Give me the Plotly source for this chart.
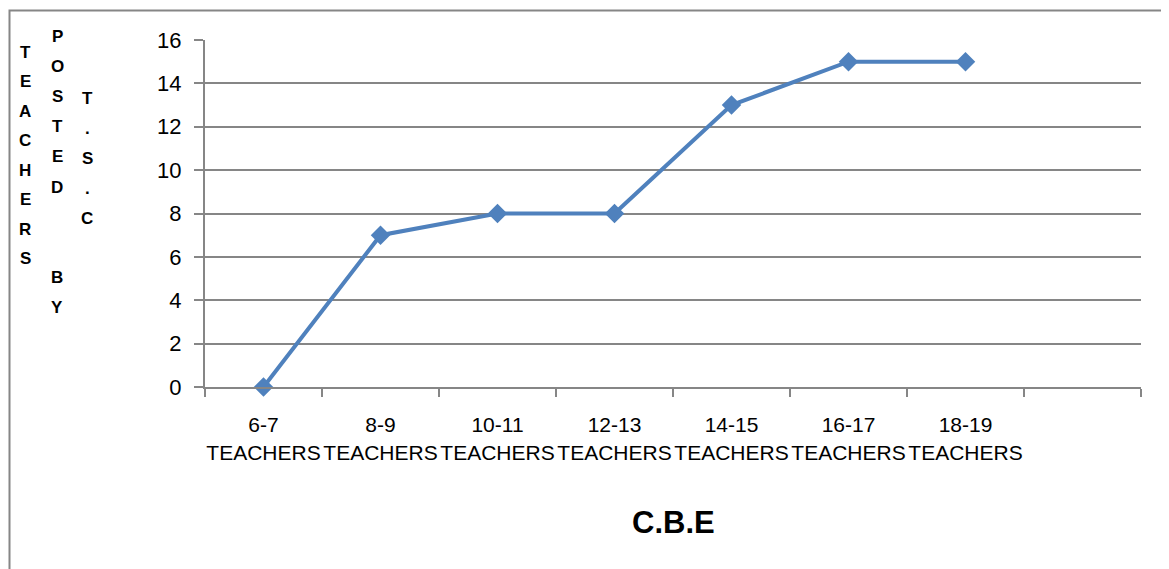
import plotly.graph_objects as go

categories = ["6-7<br>TEACHERS", "8-9<br>TEACHERS", "10-11<br>TEACHERS", "12-13<br>TEACHERS",
              "14-15<br>TEACHERS", "16-17<br>TEACHERS", "18-19<br>TEACHERS", " "]
teachers_posted = [0, 7, 8, 8, 13, 15, 15]
y_title_cols = ["TEACHERS", "POSTED  BY", "T.S.C"]
x_title = "C.B.E"

# page body has an 8px margin, so the figure is sized to fit the window
OFF = 8
W, H = 1169 - OFF, 569 - OFF
L, R, T, B = 205 - OFF, 28, 40 - OFF, 182
pw, ph = W - L - R, H - T - B

def px(x):  # screen pixel -> paper x
    return (x - OFF - L) / pw

def py(y):  # screen pixel -> paper y
    return (OFF + T + ph - y) / ph

fig = go.Figure()
fig.add_trace(go.Scatter(
    x=categories[:len(teachers_posted)], y=teachers_posted, mode="lines+markers",
    line=dict(color="#4F81BD", width=4),
    marker=dict(symbol="diamond", size=15, color="#4F81BD"),
    showlegend=False, cliponaxis=False,
))

font = "Liberation Sans, Arial, sans-serif"
fig.update_xaxes(
    type="category", categoryorder="array", categoryarray=categories,
    range=[-0.5, len(categories) - 0.5], tickson="boundaries",
    showline=True, linecolor="#868686", linewidth=2, showgrid=False,
    ticks="outside", ticklen=8, tickcolor="#868686", tickwidth=2,
    ticklabelstandoff=18, tickangle=0, automargin=False,
    tickfont=dict(family=font, size=21, color="#000"),
)
fig.update_yaxes(
    range=[0, 16], dtick=2, showline=True, linecolor="#868686", linewidth=2,
    showgrid=True, gridcolor="#868686", gridwidth=1.5, zeroline=False,
    ticks="outside", ticklen=9, tickcolor="#868686", tickwidth=2,
    ticklabelstandoff=8, automargin=False,
    tickfont=dict(family=font, size=22, color="#000"),
)

# stacked-letter y title
cols = [(25, 52, 29.5), (57, 36, 30.2), (87, 98, 30)]
for word, (cx, y0, step) in zip(y_title_cols, cols):
    for i, ch in enumerate(word):
        if ch == " ":
            continue
        fig.add_annotation(text="<b>%s</b>" % ch, xref="paper", yref="paper",
                           x=px(cx), y=py(y0 + i * step), showarrow=False,
                           xanchor="center", yanchor="middle",
                           font=dict(family=font, size=17, color="#000"))

fig.add_annotation(text="<b>%s</b>" % x_title, xref="paper", yref="paper",
                   x=0.5, y=py(522), showarrow=False, xanchor="center", yanchor="middle",
                   font=dict(family=font, size=31, color="#000"))

# chart border
fig.add_shape(type="rect", xref="paper", yref="paper",
              x0=px(9.5), y0=py(600), x1=px(1200), y1=py(10.5),
              line=dict(color="#868686", width=2), fillcolor="rgba(0,0,0,0)")

fig.update_layout(
    width=W, height=H, margin=dict(l=L, r=R, t=T, b=B, autoexpand=False),
    plot_bgcolor="white", paper_bgcolor="white",
)
fig.write_html("out.html")
